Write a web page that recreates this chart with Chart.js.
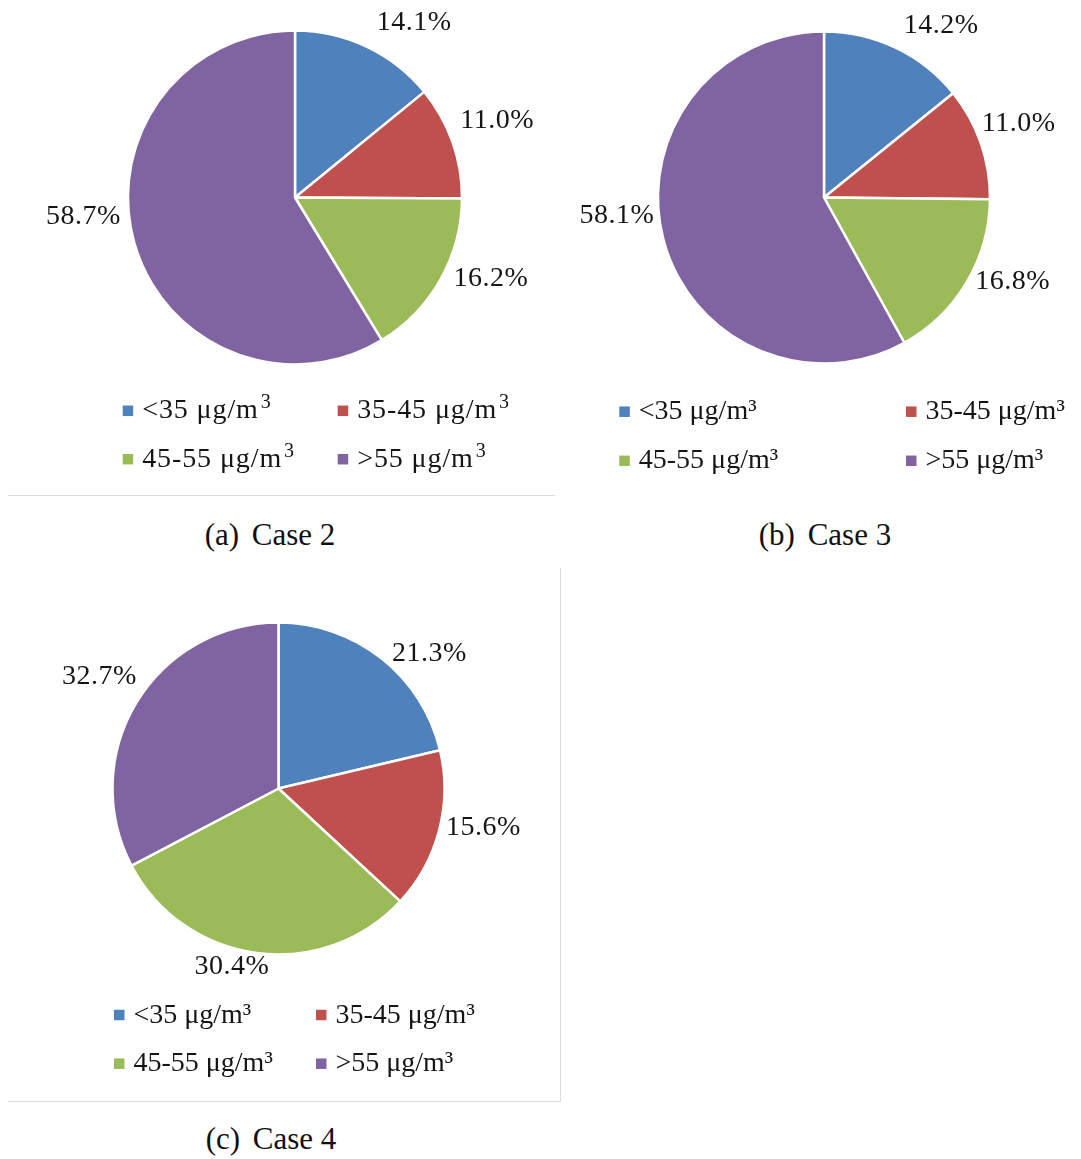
<!DOCTYPE html>
<html>
<head>
<meta charset="utf-8">
<script src="https://cdn.jsdelivr.net/npm/chart.js@4.4.1/dist/chart.umd.min.js"></script>
<style>
  html, body { margin: 0; padding: 0; background: #fff; }
  #page { position: relative; width: 1081px; height: 1159px; overflow: hidden; background: #fff; }
  canvas { position: absolute; }
  .rule { position: absolute; background: #dcdcdc; }
  .caption {
    position: absolute; width: 300px; text-align: center; white-space: pre;
    font-family: 'Liberation Serif', 'Times New Roman', serif; font-size: 31px;
    line-height: 31px; color: #111;
  }
  .caption span { margin-right: 5px; }
</style>
</head>
<body>
<div id="page">
  <canvas id="case2" width="560" height="500" style="left:0px;top:0px"></canvas>
  <canvas id="case3" width="541" height="500" style="left:540px;top:0px"></canvas>
  <canvas id="case4" width="570" height="545" style="left:0px;top:560px"></canvas>

  <div class="rule" style="left:8px;top:495px;width:547px;height:1px"></div>
  <div class="rule" style="left:560px;top:568px;width:1px;height:534px"></div>
  <div class="rule" style="left:8px;top:1101px;width:553px;height:1px"></div>

  <div class="caption" style="left:120px;top:519px"><span>(a)</span> Case 2</div>
  <div class="caption" style="left:675px;top:519px"><span>(b)</span> Case 3</div>
  <div class="caption" style="left:121px;top:1123px"><span>(c)</span> Case 4</div>
</div>
<script>
// Concentration bands (PM2.5) and the share of each band per case, in percent
const bands = ['<35 μg/m³', '35-45 μg/m³', '45-55 μg/m³', '>55 μg/m³'];
const case2Share = [14.1, 11.0, 16.2, 58.7];
const case3Share = [14.2, 11.0, 16.8, 58.1];
const case4Share = [21.3, 15.6, 30.4, 32.7];
const bandColors = ['#4F81BD', '#C0504D', '#9BBB59', '#8064A2'];

const SERIF = "'Liberation Serif', 'Times New Roman', serif";
const SLICE_BORDER = 2.5;

// Percent labels placed around the pie: [angle clockwise from 12 o'clock, distance / radius]
const sliceLabels = {
  id: 'sliceLabels',
  afterDatasetsDraw(chart, args, opts) {
    const ctx = chart.ctx;
    const meta = chart.getDatasetMeta(0);
    const values = chart.data.datasets[0].data;
    ctx.save();
    ctx.font = `${opts.size}px ${SERIF}`;
    ctx.fillStyle = opts.color;
    ctx.textAlign = 'center';
    ctx.textBaseline = 'alphabetic';
    if (opts.spacing) ctx.letterSpacing = opts.spacing + 'px';
    meta.data.forEach((arc, i) => {
      const [deg, k] = opts.placement[i];
      const a = deg * Math.PI / 180;
      const d = arc.outerRadius * k;
      const x = arc.x + Math.sin(a) * d;
      const y = arc.y - Math.cos(a) * d;
      ctx.fillText(values[i].toFixed(1) + '%', x, y + opts.size * 0.33);
    });
    ctx.restore();
  }
};

// Two-column legend under the pie
const gridLegend = {
  id: 'gridLegend',
  afterDraw(chart, args, opts) {
    const ctx = chart.ctx;
    const labels = chart.data.labels;
    const colors = chart.data.datasets[0].backgroundColor;
    ctx.save();
    ctx.textAlign = 'left';
    ctx.textBaseline = 'alphabetic';
    labels.forEach((text, i) => {
      const x = opts.cols[i % 2];
      const y = opts.rows[Math.floor(i / 2)];
      ctx.fillStyle = colors[i];
      ctx.fillRect(x, y - opts.box / 2, opts.box, opts.box);
      ctx.fillStyle = opts.color;
      ctx.font = `${opts.size}px ${SERIF}`;
      ctx.letterSpacing = (opts.spacing || 0) + 'px';
      const tx = x + opts.textGap;
      const ty = y + opts.size * 0.27;
      if (opts.raisedSup && text.endsWith('³')) {
        const base = text.slice(0, -1);
        ctx.fillText(base, tx, ty);
        const w = ctx.measureText(base).width;
        ctx.font = `${Math.round(opts.size * 0.7)}px ${SERIF}`;
        ctx.fillText('3', tx + w + 2, ty - opts.size * 0.36);
      } else {
        ctx.fillText(text, tx, ty);
      }
    });
    ctx.restore();
  }
};

// Padding that puts a pie of outer radius R at (cx, cy) inside a w x h canvas
function piePadding(w, h, cx, cy, R) {
  const half = R + SLICE_BORDER / 2;
  return { left: cx - half, right: w - (cx + half), top: cy - half, bottom: h - (cy + half) };
}

function drawCase(id, share, pie, labelOpts, legendOpts) {
  const canvas = document.getElementById(id);
  new Chart(canvas, {
    type: 'pie',
    data: {
      labels: bands,
      datasets: [{
        data: share,
        backgroundColor: bandColors,
        borderColor: '#ffffff',
        borderWidth: SLICE_BORDER
      }]
    },
    options: {
      responsive: false,
      animation: false,
      events: [],
      layout: { padding: piePadding(canvas.width, canvas.height, pie.cx, pie.cy, pie.r) },
      plugins: {
        legend: { display: false },
        tooltip: { enabled: false },
        sliceLabels: Object.assign({ size: 28, color: '#151515' }, labelOpts),
        gridLegend: Object.assign({ size: 28, box: 10.5, textGap: 19.5, color: '#151515' }, legendOpts)
      }
    },
    plugins: [sliceLabels, gridLegend]
  });
}

function drawAll() {
  drawCase('case2', case2Share,
    { cx: 295, cy: 197.5, r: 167 },
    { placement: [[34.0, 1.275], [68.8, 1.298], [112.1, 1.266], [265.3, 1.271]], spacing: 0.5 },
    { cols: [122.7, 337.7], rows: [410.8, 459.2], raisedSup: true, spacing: 0.9 });

  drawCase('case3', case3Share,
    { cx: 284, cy: 197.5, r: 166 },
    { placement: [[34.0, 1.261], [68.7, 1.258], [113.6, 1.240], [265.4, 1.251]], spacing: 0.5 },
    { cols: [79.3, 366], rows: [411.7, 460.8] });

  drawCase('case4', case4Share,
    { cx: 278.5, cy: 228.5, r: 166 },
    { placement: [[47.8, 1.228], [100.4, 1.255], [194.8, 1.099], [302.4, 1.277]], spacing: 0.5 },
    { cols: [114, 316], rows: [455, 503.7] });
}

// Make sure the serif face is ready before the canvases paint their text
if (document.fonts && document.fonts.load) {
  Promise.all([
    document.fonts.load("28px 'Liberation Serif'", '0123456789%μg/m³<>-'),
    document.fonts.load("20px 'Liberation Serif'", '3')
  ]).then(drawAll, drawAll);
} else {
  drawAll();
}
</script>
</body>
</html>
